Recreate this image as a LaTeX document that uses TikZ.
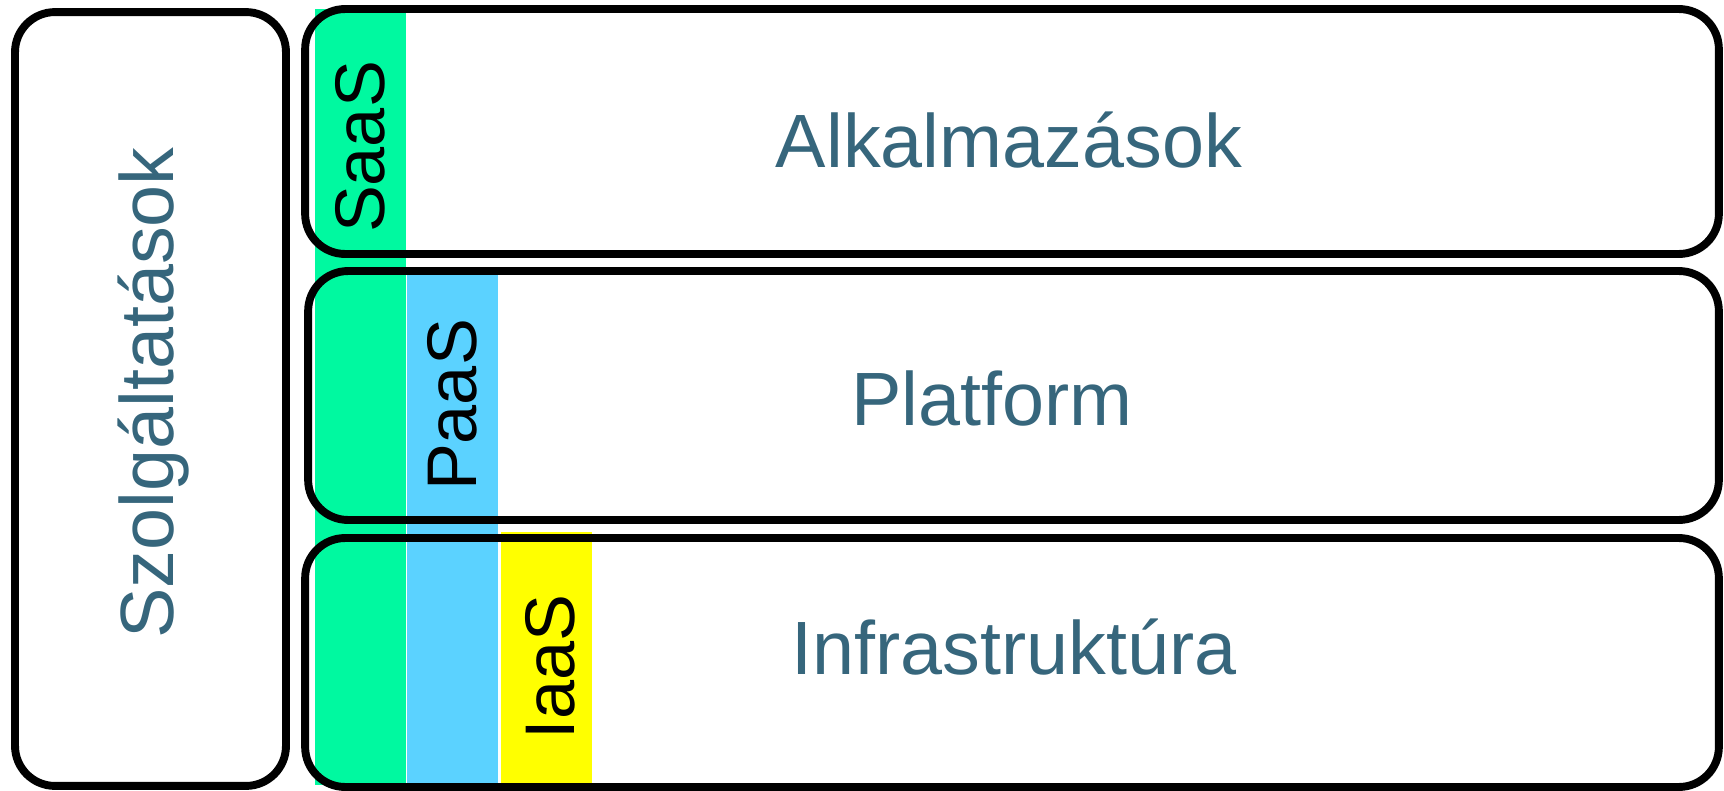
\documentclass[tikz,border=0pt]{standalone}
\usepackage{fontspec}
\setmainfont{Liberation Sans}
\definecolor{layertext}{HTML}{36667C}
\definecolor{saasgreen}{HTML}{00F9A0}
\definecolor{paasblue}{HTML}{5BD2FF}
\definecolor{iaasyellow}{HTML}{FFFF00}

\begin{document}
\begin{tikzpicture}[x=0.02cm, y=-0.02cm,
    layer/.style ={draw, line width=4.5pt, rounded corners=0.8cm, inner sep=0pt},
    layertitle/.style ={text=layertext, font=\fontsize{43}{50}\selectfont, inner sep=0pt},
    tag/.style ={rotate=90, font=\fontsize{40}{48}\selectfont, inner sep=0pt}]
   \useasboundingbox (0,0) rectangle (1724,791);

   % service bars
   \fill[saasgreen]  (315,9)   rectangle (406,785);
   \fill[paasblue]   (407,275) rectangle (498,785);
   \fill[iaasyellow] (501,532) rectangle (592,785);

   \node[layer, minimum width=5.42cm, minimum height=15.48cm] (services) at (150.5,399) {};
   \node[layer, minimum width=28.28cm, minimum height=4.9cm]  (apps)  at (1012,131.5) {};
   \node[layer, minimum width=28.22cm, minimum height=4.98cm] (platform) at (1013.5,395.5) {};
   \node[layer, minimum width=28.28cm, minimum height=4.98cm] (infra) at (1012,662.5) {};

   \node[layertitle, rotate=90] (servicestext) at (154,393) {Szolgáltatások};
   \node[layertitle] (appstext)  at (1009,140) {Alkalmazások};
   \node[layertitle] (platformtext) at (992,398) {Platform};
   \node[layertitle] (infratext) at (1014,647) {Infrastruktúra};

   \node[tag] (saas) at (360,147) {SaaS};
   \node[tag] (paas) at (452,405) {PaaS};
   \node[tag] (iaas) at (550,667) {IaaS};

 \end{tikzpicture}
\end{document}
